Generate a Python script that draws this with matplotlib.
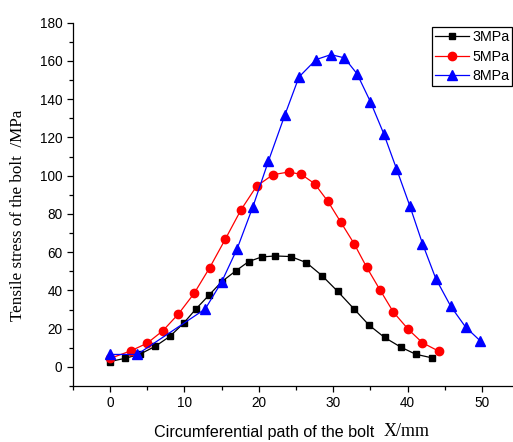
import matplotlib
matplotlib.use("Agg")
import matplotlib.pyplot as plt

x3 = [0, 2.05, 4.0, 6.1, 8.1, 9.9, 11.55, 13.3, 15.0, 16.9, 18.65, 20.4, 22.2, 24.3,
      26.4, 28.5, 30.6, 32.8, 34.8, 36.9, 39.1, 41.1, 43.3]
y3 = [2.8, 4.5, 6.6, 10.8, 16.1, 22.9, 30.3, 37.5, 44.5, 50.2, 55.1, 57.5, 58.0, 57.7,
      54.5, 47.7, 39.5, 30.3, 21.9, 15.4, 10.3, 6.6, 4.7]

x5 = [0, 2.8, 5.0, 7.1, 9.2, 11.3, 13.4, 15.5, 17.6, 19.7, 21.9, 24.0, 25.7, 27.5,
      29.3, 31.0, 32.8, 34.5, 36.3, 38.1, 40.1, 42.0, 44.2]
y5 = [4.4, 8.4, 12.4, 18.9, 27.7, 38.4, 51.9, 66.8, 82.1, 94.5, 100.5, 101.9, 100.7, 95.8,
      86.5, 75.8, 64.5, 52.1, 40.2, 28.6, 19.6, 12.6, 8.2]

x8 = [0, 3.65, 12.8, 15.0, 17.1, 19.2, 21.3, 23.5, 25.4, 27.7, 29.7, 31.5, 33.2, 35.0,
      36.8, 38.5, 40.3, 42.0, 43.8, 45.8, 47.8, 49.8]
y8 = [6.5, 6.5, 30.3, 44.4, 61.9, 83.7, 107.7, 131.7, 151.6, 160.7, 163.3, 161.6, 153.3, 138.7,
      121.9, 103.7, 84.2, 64.5, 46.1, 31.7, 20.8, 13.5]

labels = ["3MPa", "5MPa", "8MPa"]
xticks = [0, 10, 20, 30, 40, 50]
yticks = [0, 20, 40, 60, 80, 100, 120, 140, 160, 180]

plt.rcParams['font.family'] = ['Liberation Sans', 'DejaVu Sans']

fig = plt.figure(figsize=(5.13, 4.42), dpi=100)
ax = fig.add_axes([0.142, 0.1267, 0.870, 0.822])

ax.plot(x3, y3, '-s', color='black', lw=0.9, ms=5, label=labels[0], clip_on=False)
ax.plot(x5, y5, '-o', color='red', mfc='red', mec='red', lw=0.9, ms=6, label=labels[1], clip_on=False)
ax.plot(x8, y8, '-^', color='blue', mfc='blue', mec='blue', lw=0.9, ms=6.5, label=labels[2], clip_on=False)

ax.set_xlim(-5, 55)
ax.set_ylim(-10, 180)
ax.set_xticks(xticks)
ax.set_yticks(yticks)
ax.set_xticks([-5, 5, 15, 25, 35, 45, 55], minor=True)
ax.set_yticks(list(range(-10, 181, 20)), minor=True)
ax.spines['top'].set_visible(False)
ax.spines['right'].set_visible(False)
for s in ['left', 'bottom']:
    ax.spines[s].set_linewidth(0.9)
ax.tick_params(which='major', direction='out', length=4, width=0.9, labelsize=9.8, pad=3.5)
ax.tick_params(which='minor', direction='out', length=3, width=0.9)

ax.set_ylabel("Tensile stress of the bolt  /MPa", family=['Liberation Serif'], fontsize=12.3)
ax.yaxis.set_label_coords(-0.105, 0.471)

t1 = fig.text(154/513, 1 - 432/442, "Circumferential path of the bolt  ",
              fontsize=11.6, ha='left', va='center', family=['Liberation Sans'])
ax.annotate("X/mm", xy=(1, 0.5), xycoords=t1, va='center', ha='left',
            fontsize=13, family=['Liberation Serif'])

leg = ax.legend(loc='upper left', bbox_to_anchor=(431.7/513, 1 - 27.3/442),
                bbox_transform=fig.transFigure, borderaxespad=0, fontsize=10.3,
                handlelength=2.38, handletextpad=0.26, labelspacing=0.38, borderpad=0.2,
                fancybox=False, edgecolor='black', framealpha=1)
leg.get_frame().set_linewidth(0.9)

fig.savefig("out.png", dpi=100)
